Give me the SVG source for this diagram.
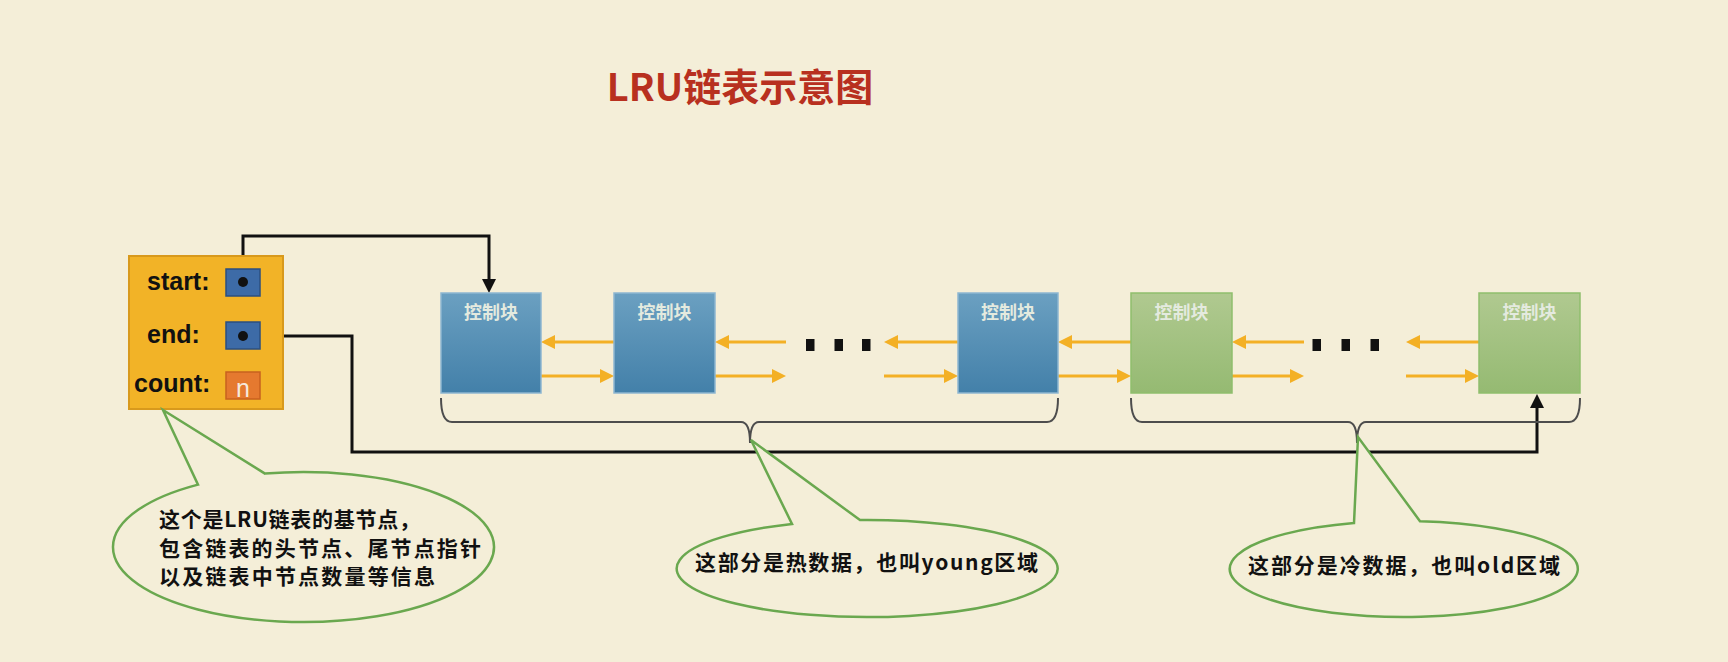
<svg xmlns="http://www.w3.org/2000/svg" width="1728" height="662" viewBox="0 0 1728 662">
<defs>
<linearGradient id="gBlue" x1="0" y1="0" x2="0" y2="1">
<stop offset="0" stop-color="#6ba0c1"/>
<stop offset="1" stop-color="#4380a9"/>
</linearGradient>
<linearGradient id="gGreen" x1="0" y1="0" x2="0" y2="1">
<stop offset="0" stop-color="#b0c990"/>
<stop offset="1" stop-color="#95ba72"/>
</linearGradient>
<marker id="ah" markerUnits="userSpaceOnUse" markerWidth="14" markerHeight="14" refX="2" refY="7" orient="auto">
<path d="M0,0 L14,7 L0,14 z" fill="#f3b025"/>
</marker>
<marker id="bh" markerUnits="userSpaceOnUse" markerWidth="14" markerHeight="14" refX="2" refY="7" orient="auto">
<path d="M0,0 L14,7 L0,14 z" fill="#111"/>
</marker>
<style>
.blk{fill:url(#gBlue);stroke:#8db6d1;stroke-width:1.5}
.grn{fill:url(#gGreen);stroke:#8fbe6c;stroke-width:1.5}
.lbl{font-family:"Noto Sans CJK SC","Liberation Sans",sans-serif;font-size:18px;font-weight:bold;fill:#e4eadf;text-anchor:middle}
.oarr{stroke:#f3b025;stroke-width:3;fill:none;marker-end:url(#ah)}
.conn{stroke:#111;stroke-width:3;fill:none}
.brace{stroke:#4d4d4d;stroke-width:2;fill:none}
.callout{fill:#f4eed8;stroke:#6aa84f;stroke-width:2.5}
.ctext{font-family:"Noto Sans CJK SC","Liberation Sans",sans-serif;font-size:21px;font-weight:bold;fill:#111}
.field{font-family:"Liberation Sans","Noto Sans",sans-serif;font-size:25px;font-weight:bold;fill:#111}
.dot{fill:#111}
</style>
</defs>
<rect width="1728" height="662" fill="#f4eed8"/>
<text x="740" y="101" text-anchor="middle" font-family="'Noto Sans CJK SC','Liberation Sans',sans-serif" font-size="38" font-weight="bold" fill="#b8301f">LRU链表示意图</text>

<g id="connectors">
<line class="oarr" x1="614" y1="342" x2="553" y2="342"/>
<line class="oarr" x1="541" y1="376" x2="602" y2="376"/>
<line class="oarr" x1="786" y1="342" x2="727" y2="342"/>
<line class="oarr" x1="715" y1="376" x2="774" y2="376"/>
<line class="oarr" x1="958" y1="342" x2="896" y2="342"/>
<line class="oarr" x1="884" y1="376" x2="946" y2="376"/>
<line class="oarr" x1="1131" y1="342" x2="1070" y2="342"/>
<line class="oarr" x1="1058" y1="376" x2="1119" y2="376"/>
<line class="oarr" x1="1304" y1="342" x2="1244" y2="342"/>
<line class="oarr" x1="1232" y1="376" x2="1292" y2="376"/>
<line class="oarr" x1="1479" y1="342" x2="1418" y2="342"/>
<line class="oarr" x1="1406" y1="376" x2="1467" y2="376"/>
<path class="conn" d="M243,282 V236 H489 V281" marker-end="url(#bh)"/>
<path class="conn" d="M283,336 H352 V452 H1537 V406" marker-end="url(#bh)"/>
<path class="brace" d="M441,398 Q441,422 452,422 L741,422 Q750,422 750,443 Q750,422 759,422 L1047,422 Q1058,422 1058,398"/>
<path class="brace" d="M1131,398 Q1131,422 1142,422 L1348,422 Q1357,422 1357,443 Q1357,422 1366,422 L1569,422 Q1580,422 1580,398"/>
</g>

<g id="ellipsis1">
<rect class="dot" x="806" y="339" width="8.5" height="12"/>
<rect class="dot" x="834.5" y="339" width="8.5" height="12"/>
<rect class="dot" x="862" y="339" width="8.5" height="12"/>
</g>
<g id="ellipsis2">
<rect class="dot" x="1312.5" y="339" width="8.5" height="12"/>
<rect class="dot" x="1341.5" y="339" width="8.5" height="12"/>
<rect class="dot" x="1370.5" y="339" width="8.5" height="12"/>
</g>

<g id="base-node">
<rect x="129" y="256" width="154" height="153" fill="#f2b327" stroke="#d8991c" stroke-width="2"/>
<text class="field" x="147" y="290">start:</text>
<text class="field" x="147" y="343">end:</text>
<text class="field" x="134" y="392">count:</text>
<rect x="226" y="269" width="34" height="27" fill="#3d6ba7" stroke="#2b4f80" stroke-width="1.5"/>
<circle cx="243" cy="282" r="5" fill="#111"/>
<rect x="226" y="322" width="34" height="27" fill="#3d6ba7" stroke="#2b4f80" stroke-width="1.5"/>
<circle cx="243" cy="336" r="5" fill="#111"/>
<rect x="226" y="372" width="34" height="27" fill="#e5792f" stroke="#c8611f" stroke-width="1.5"/>
<text x="243" y="397" text-anchor="middle" font-family="'Liberation Sans',sans-serif" font-size="25" fill="#f6e9dc">n</text>
</g>

<g id="block1"><rect class="blk" x="441" y="293" width="100" height="100"/><text class="lbl" x="491" y="319">控制块</text></g>
<g id="block2"><rect class="blk" x="614" y="293" width="101" height="100"/><text class="lbl" x="664.5" y="319">控制块</text></g>
<g id="block3"><rect class="blk" x="958" y="293" width="100" height="100"/><text class="lbl" x="1008" y="319">控制块</text></g>
<g id="block4"><rect class="grn" x="1131" y="293" width="101" height="100"/><text class="lbl" x="1181.5" y="319">控制块</text></g>
<g id="block5"><rect class="grn" x="1479" y="293" width="101" height="100"/><text class="lbl" x="1529.5" y="319">控制块</text></g>

<g id="callout-base">
<path class="callout" d="M265,473.6 A190.5,75 0 1 1 198,484.6 L163,410 Z"/>
<text class="ctext" x="159" y="527" textLength="261" lengthAdjust="spacing">这个是LRU链表的基节点，</text>
<text class="ctext" x="159" y="556" textLength="322" lengthAdjust="spacing">包含链表的头节点、尾节点指针</text>
<text class="ctext" x="159" y="584" textLength="276" lengthAdjust="spacing">以及链表中节点数量等信息</text>
</g>
<g id="callout-young">
<path class="callout" d="M860,520.1 A190.5,48.5 0 1 1 792,524 L751,440 Z"/>
<text class="ctext" x="695" y="570" textLength="343" lengthAdjust="spacing">这部分是热数据，也叫young区域</text>
</g>
<g id="callout-old">
<path class="callout" d="M1420,521.2 A174,48 0 1 1 1354,523 L1358,437 Z"/>
<text class="ctext" x="1248" y="573" textLength="312" lengthAdjust="spacing">这部分是冷数据，也叫old区域</text>
</g>
</svg>
